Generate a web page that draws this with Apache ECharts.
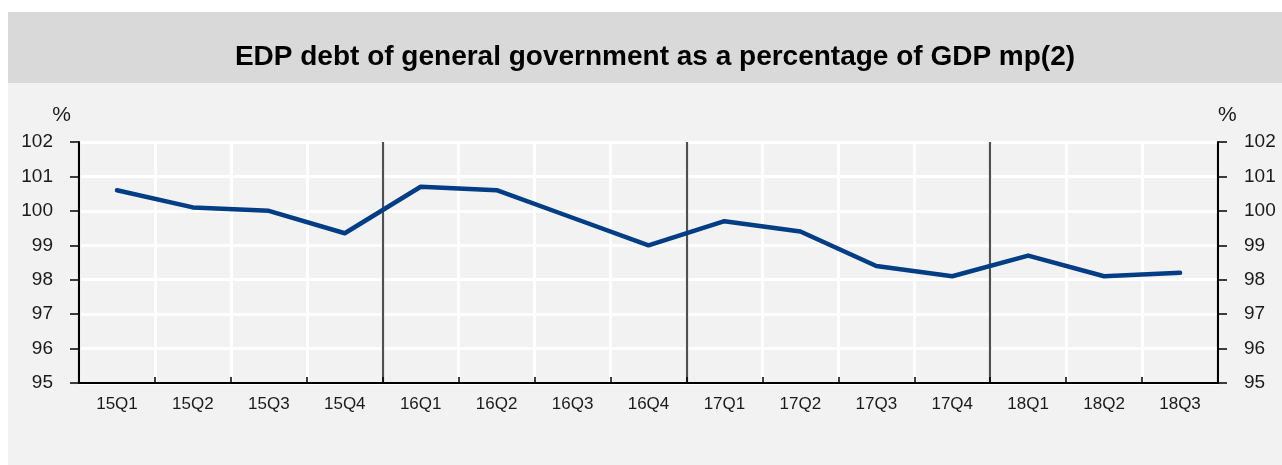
<!DOCTYPE html>
<html>
<head>
<meta charset="utf-8">
<script src="https://cdn.jsdelivr.net/npm/echarts@6/dist/echarts.min.js"></script>
<style>
html,body{margin:0;padding:0;background:#ffffff;}
#chart{width:1282px;height:465px;}
</style>
</head>
<body>
<div id="chart"></div>
<script>
const categories = ['15Q1','15Q2','15Q3','15Q4','16Q1','16Q2','16Q3','16Q4','17Q1','17Q2','17Q3','17Q4','18Q1','18Q2','18Q3'];
const debtValues = [100.6, 100.1, 100.0, 99.35, 100.7, 100.6, 99.8, 99.0, 99.7, 99.4, 98.4, 98.1, 98.7, 98.1, 98.2];
const yearBreaks = [4, 8, 12];
const titleText = 'EDP debt of general government as a percentage of GDP mp(2)';

const FONT = '"Liberation Sans", Arial, Helvetica, sans-serif';
const chart = echarts.init(document.getElementById('chart'), null, {renderer: 'canvas'});

const yAxisCommon = {
  type: 'value', min: 95, max: 102, interval: 1,
  name: '%',
  nameLocation: 'end',
  nameGap: 16,
  axisLine: {show: true, lineStyle: {color: '#000', width: 2}},
  axisTick: {show: true, inside: false, length: 9, lineStyle: {color: '#000', width: 1.5}},
  axisLabel: {show: true, margin: 26, color: '#1a1a1a', fontSize: 19, fontFamily: FONT},
};

chart.setOption({
  backgroundColor: '#ffffff',
  animation: false,
  graphic: [
    {type: 'rect', z: -10, shape: {x: 8, y: 12, width: 1274, height: 71}, style: {fill: '#d9d9d9'}, silent: true},
    {type: 'rect', z: -10, shape: {x: 8, y: 83, width: 1274, height: 382}, style: {fill: '#f2f2f2'}, silent: true}
  ],
  title: {
    text: titleText,
    left: 650, top: 52, textAlign: 'center', textVerticalAlign: 'middle',
    textStyle: {fontFamily: FONT, fontWeight: 'bold', fontSize: 28, color: '#000'}
  },
  grid: {left: 79, right: 64, top: 142, bottom: 82, containLabel: false},
  xAxis: [
    {
      type: 'category', data: categories, boundaryGap: true, position: 'bottom',
      axisLine: {show: true, onZero: false, lineStyle: {color: '#000', width: 2}},
      axisTick: {show: true, inside: true, length: 6, interval: 0, alignWithLabel: false, lineStyle: {color: '#000', width: 1.5}},
      axisLabel: {interval: 0, margin: 13, color: '#1a1a1a', fontSize: 17, fontFamily: FONT},
      splitLine: {show: true, interval: 0, lineStyle: {color: '#ffffff', width: 3}}
    },
    {
      type: 'value', min: 0, max: categories.length, interval: yearBreaks[0], position: 'bottom',
      axisLine: {show: false}, axisTick: {show: false}, axisLabel: {show: false},
      splitLine: {show: true, lineStyle: {color: '#505050', width: 2.2}}
    }
  ],
  yAxis: [
    Object.assign({}, yAxisCommon, {
      position: 'left',
      nameTextStyle: {color: '#1a1a1a', fontSize: 21, fontFamily: FONT, align: 'right', padding: [0, 8, 0, 0]},
      splitLine: {show: true, lineStyle: {color: '#ffffff', width: 3}}
    }),
    Object.assign({}, yAxisCommon, {
      position: 'right',
      nameTextStyle: {color: '#1a1a1a', fontSize: 21, fontFamily: FONT, align: 'left', padding: [0, 0, 0, 0]},
      splitLine: {show: false}
    })
  ],
  series: [{
    type: 'line', data: debtValues, xAxisIndex: 0, yAxisIndex: 0,
    showSymbol: false, symbol: 'none',
    lineStyle: {color: '#003d84', width: 4.5, cap: 'round', join: 'round'},
    z: 5
  }]
});
</script>
</body>
</html>
